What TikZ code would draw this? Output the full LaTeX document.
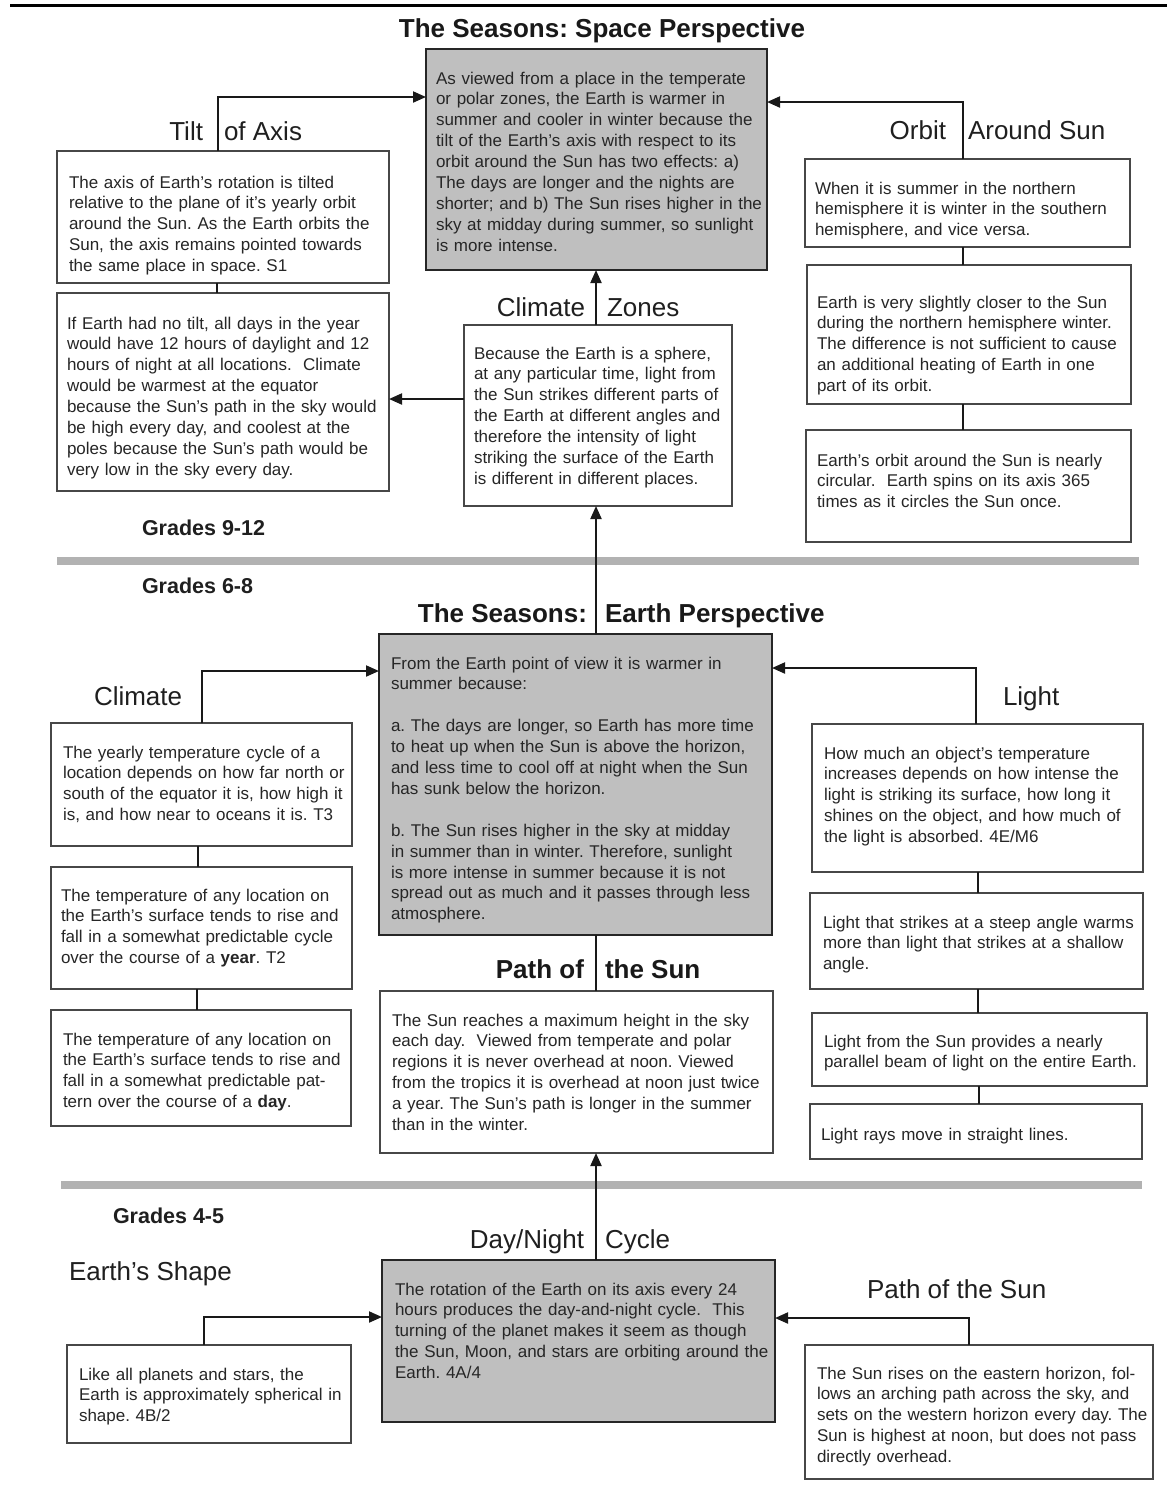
\documentclass[tikz,border=0pt]{standalone}
\usepackage{fontspec}
\setmainfont{Liberation Sans}
\usetikzlibrary{arrows.meta}
\frenchspacing
\tikzset{
  wbox/.style={draw=black!72, line width=1.4pt, fill=white, inner sep=0pt, outer sep=0pt},
  gbox/.style={draw=black!85, line width=2pt, fill=black!25, inner sep=0pt, outer sep=0pt},
  btxt/.style={inner sep=0pt, outer sep=0pt, text width=420pt, align=left,
    font=\fontsize{17}{20.9}\selectfont\frenchspacing, text=black!85},
  lab/.style={inner sep=0pt, outer sep=0pt, font=\fontsize{26}{30}\selectfont, text=black!88},
  blab/.style={inner sep=0pt, outer sep=0pt, font=\bfseries\fontsize{26}{30}\selectfont, text=black!90},
  grade/.style={inner sep=0pt, outer sep=0pt, font=\bfseries\fontsize{21.5}{26}\selectfont, text=black!88},
  conn/.style={draw=black!90, line width=2pt},
  arr/.style={conn, -{Triangle[length=13pt,width=11pt]}},
  sepline/.style={draw=black!30, line width=8pt},
}
\newcommand\mkbox[6][wbox]{\node[#1, anchor=north west, minimum width={#5-#3}, minimum height={#6-#4}] (#2) at (#3,#4) {};}
\newcommand\mktext[4]{\node[btxt, anchor=north west] (#1) at (#2,{#3-14.63}) {\strut #4};}
\begin{document}
\begin{tikzpicture}[x=1pt,y=-1pt]
\useasboundingbox (0,0) rectangle (1167,1508);
\fill[white] (0,0) rectangle (1167,1508);
% rules
\draw[line width=3pt] (10,5) -- (1167,5);
\draw[sepline] (57,561) -- (1139,561);
\draw[sepline] (61,1185) -- (1142,1185);

% ---------- boxes ----------
\mkbox[gbox]{space}{426}{49}{767}{270}
\mkbox{tiltA}{57}{151}{389}{283}
\mkbox{tiltB}{57}{293}{389}{491}
\mkbox{zones}{464}{325}{732}{506}
\mkbox{orbA}{805}{159}{1130}{247}
\mkbox{orbB}{807}{265}{1131}{404}
\mkbox{orbC}{806}{430}{1131}{542}
\mkbox[gbox]{earth}{379}{634}{772}{935}
\mkbox{climA}{51}{723}{352}{846}
\mkbox{climB}{51}{867}{352}{989}
\mkbox{climC}{51}{1010}{351}{1126}
\mkbox{path}{380}{991}{773}{1153}
\mkbox{lightA}{812}{724}{1143}{872}
\mkbox{lightB}{810}{893}{1143}{989}
\mkbox{lightC}{812}{1013}{1147}{1086}
\mkbox{lightD}{810}{1104}{1142}{1159}
\mkbox[gbox]{day}{382}{1260}{775}{1422}
\mkbox{shape}{67}{1345}{351}{1443}
\mkbox{sun}{805}{1345}{1153}{1479}

% ---------- box texts ----------
\mktext{spaceT}{436}{84}{As viewed from a place in the temperate\\
or polar zones, the Earth is warmer in\\
summer and cooler in winter because the\\
tilt of the Earth's axis with respect to its\\
orbit around the Sun has two effects: a)\\
The days are longer and the nights are\\
shorter; and b) The Sun rises higher in the\\
sky at midday during summer, so sunlight\\
is more intense.}
\mktext{tiltAT}{69}{188}{The axis of Earth's rotation is tilted\\
relative to the plane of it's yearly orbit\\
around the Sun. As the Earth orbits the\\
Sun, the axis remains pointed towards\\
the same place in space. S1}
\mktext{tiltBT}{67}{329}{If Earth had no tilt, all days in the year\\
would have 12 hours of daylight and 12\\
hours of night at all locations.\ \ Climate\\
would be warmest at the equator\\
because the Sun's path in the sky would\\
be high every day, and coolest at the\\
poles because the Sun's path would be\\
very low in the sky every day.}
\mktext{zonesT}{474}{359}{Because the Earth is a sphere,\\
at any particular time, light from\\
the Sun strikes different parts of\\
the Earth at different angles and\\
therefore the intensity of light\\
striking the surface of the Earth\\
is different in different places.}
\mktext{orbAT}{815}{194}{When it is summer in the northern\\
hemisphere it is winter in the southern\\
hemisphere, and vice versa.}
\mktext{orbBT}{817}{308}{Earth is very slightly closer to the Sun\\
during the northern hemisphere winter.\\
The difference is not sufficient to cause\\
an additional heating of Earth in one\\
part of its orbit.}
\mktext{orbCT}{817}{466}{Earth's orbit around the Sun is nearly\\
circular.\ \ Earth spins on its axis 365\\
times as it circles the Sun once.}
\mktext{earthT}{391}{669}{From the Earth point of view it is warmer in\\
summer because:\\[20.9pt]
a. The days are longer, so Earth has more time\\
to heat up when the Sun is above the horizon,\\
and less time to cool off at night when the Sun\\
has sunk below the horizon.\\[20.9pt]
b. The Sun rises higher in the sky at midday\\
in summer than in winter. Therefore, sunlight\\
is more intense in summer because it is not\\
spread out as much and it passes through less\\
atmosphere.}
\mktext{climAT}{63}{758}{The yearly temperature cycle of a\\
location depends on how far north or\\
south of the equator it is, how high it\\
is, and how near to oceans it is. T3}
\mktext{climBT}{61}{901}{The temperature of any location on\\
the Earth's surface tends to rise and\\
fall in a somewhat predictable cycle\\
over the course of a \textbf{year}. T2}
\mktext{climCT}{63}{1045}{The temperature of any location on\\
the Earth's surface tends to rise and\\
fall in a somewhat predictable pat-\\
tern over the course of a \textbf{day}.}
\mktext{lightAT}{824}{759}{How much an object's temperature\\
increases depends on how intense the\\
light is striking its surface, how long it\\
shines on the object, and how much of\\
the light is absorbed. 4E/M6}
\mktext{lightBT}{823}{928}{Light that strikes at a steep angle warms\\
more than light that strikes at a shallow\\
angle.}
\mktext{lightCT}{824}{1047}{Light from the Sun provides a nearly\\
parallel beam of light on the entire Earth.}
\mktext{lightDT}{821}{1140}{Light rays move in straight lines.}
\mktext{pathT}{392}{1026}{The Sun reaches a maximum height in the sky\\
each day.\ \ Viewed from temperate and polar\\
regions it is never overhead at noon. Viewed\\
from the tropics it is overhead at noon just twice\\
a year. The Sun's path is longer in the summer\\
than in the winter.}
\mktext{dayT}{395}{1295}{The rotation of the Earth on its axis every 24\\
hours produces the day-and-night cycle.\ \ This\\
turning of the planet makes it seem as though\\
the Sun, Moon, and stars are orbiting around the\\
Earth. 4A/4}
\mktext{shapeT}{79}{1380}{Like all planets and stars, the\\
Earth is approximately spherical in\\
shape. 4B/2}
\mktext{sunT}{817}{1379}{The Sun rises on the eastern horizon, fol-\\
lows an arching path across the sky, and\\
sets on the western horizon every day. The\\
Sun is highest at noon, but does not pass\\
directly overhead.}

% ---------- labels ----------
\node[blab, anchor=base] (title1) at (602,37) {The Seasons: Space Perspective};
\node[lab, anchor=base east] (tiltL) at (203,140) {Tilt};
\node[lab, anchor=base west] (tiltR) at (224,140) {of Axis};
\node[lab, anchor=base east] (orbL) at (946,139) {Orbit};
\node[lab, anchor=base west] (orbR) at (968,139) {Around Sun};
\node[lab, anchor=base east] (zonL) at (585,316) {Climate};
\node[lab, anchor=base west] (zonR) at (607,316) {Zones};
\node[grade, anchor=base west] (g912) at (142,535) {Grades 9-12};
\node[grade, anchor=base west] (g68) at (142,593) {Grades 6-8};
\node[blab, anchor=base east] (title2L) at (587,622) {The Seasons:};
\node[blab, anchor=base west] (title2R) at (605,622) {Earth Perspective};
\node[lab, anchor=base west] (climL) at (94,705) {Climate};
\node[lab, anchor=base west] (lightL) at (1003,705) {Light};
\node[blab, anchor=base east] (pathL) at (584,978) {Path of};
\node[blab, anchor=base west] (pathR) at (605,978) {the Sun};
\node[grade, anchor=base west] (g45) at (113,1223) {Grades 4-5};
\node[lab, anchor=base east] (dayL) at (584,1248) {Day/Night};
\node[lab, anchor=base west] (dayR) at (605,1248) {Cycle};
\node[lab, anchor=base west] (shapeL) at (69,1280) {Earth's Shape};
\node[lab, anchor=base west] (sunL) at (867,1298) {Path of the Sun};

% ---------- connector reference points ----------
\coordinate (kTilt) at (218,97);
\coordinate (kTiltB) at (217,0);
\coordinate (kOrb) at (963,102);
\coordinate (kMid) at (596,0);
\coordinate (kZon) at (0,399);
\coordinate (kClim) at (202,671);
\coordinate (kClimB) at (198,0);
\coordinate (kClimC) at (197,0);
\coordinate (kLight) at (976,668);
\coordinate (kLightB) at (978,0);
\coordinate (kLightD) at (979,0);
\coordinate (kShape) at (204,1317);
\coordinate (kSun) at (969,1318);

% ---------- connectors ----------
\draw[arr] (kTilt |- tiltA.north) |- (space.west |- kTilt);
\draw[conn] (tiltA.south -| kTiltB) -- (tiltB.north -| kTiltB);
\draw[arr] (kOrb |- orbA.north) |- (space.east |- kOrb);
\draw[conn] (orbA.south -| kOrb) -- (orbB.north -| kOrb);
\draw[conn] (orbB.south -| kOrb) -- (orbC.north -| kOrb);
\draw[arr] (zones.north -| kMid) -- (space.south -| kMid);
\draw[arr] (zones.west |- kZon) -- (tiltB.east |- kZon);
\draw[arr] (earth.north -| kMid) -- (zones.south -| kMid);
\draw[arr] (kClim |- climA.north) |- (earth.west |- kClim);
\draw[conn] (climA.south -| kClimB) -- (climB.north -| kClimB);
\draw[conn] (climB.south -| kClimC) -- (climC.north -| kClimC);
\draw[arr] (kLight |- lightA.north) |- (earth.east |- kLight);
\draw[conn] (lightA.south -| kLightB) -- (lightB.north -| kLightB);
\draw[conn] (lightB.south -| kLightB) -- (lightC.north -| kLightB);
\draw[conn] (lightC.south -| kLightD) -- (lightD.north -| kLightD);
\draw[conn] (earth.south -| kMid) -- (path.north -| kMid);
\draw[arr] (day.north -| kMid) -- (path.south -| kMid);
\draw[arr] (kShape |- shape.north) |- (day.west |- kShape);
\draw[arr] (kSun |- sun.north) |- (day.east |- kSun);
\end{tikzpicture}
\end{document}
